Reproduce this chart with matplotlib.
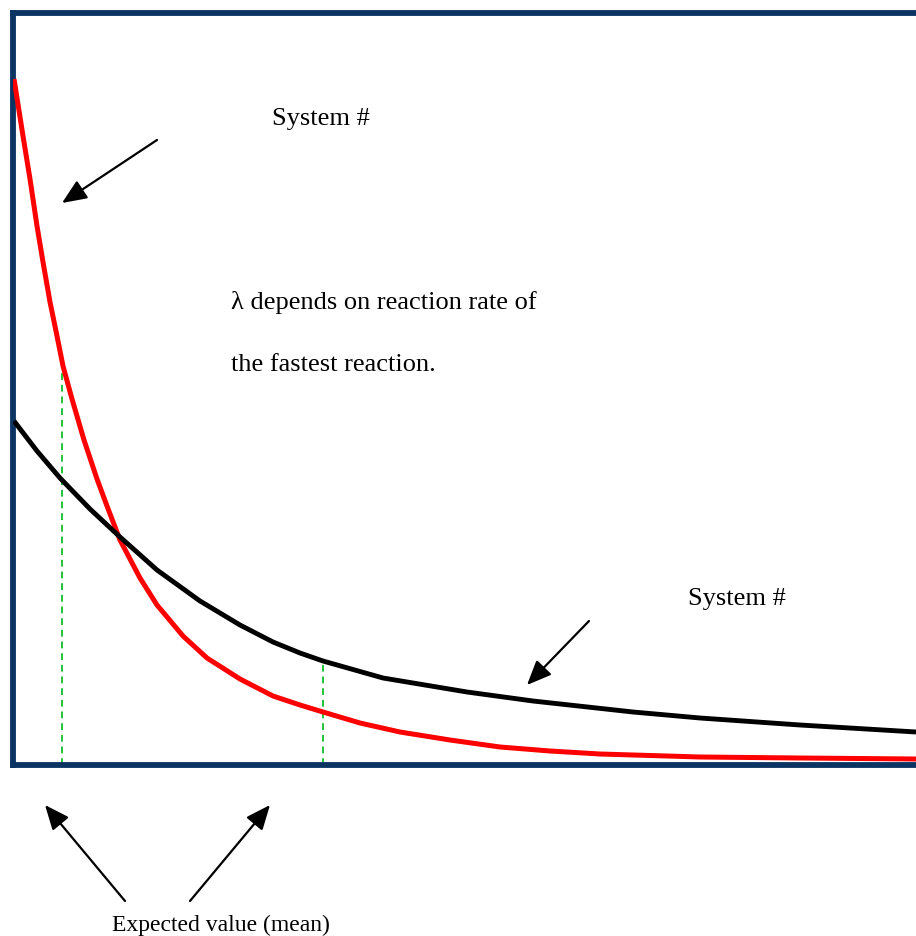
import matplotlib
matplotlib.use("Agg")
import matplotlib.pyplot as plt

# ---- data (arbitrary units: time on x, density on y) ----
red_x = [0.01, 0.10, 0.17, 0.24, 0.30, 0.37, 0.44, 0.50, 0.59, 0.71, 0.84, 0.94, 1.07, 1.27, 1.44,
         1.70, 1.94, 2.27, 2.60, 2.87, 3.10, 3.47, 3.87, 4.37, 4.87, 5.37, 5.87, 6.87, 7.87, 9.03]
red_y = [6.86, 6.29, 5.86, 5.39, 5.03, 4.63, 4.29, 3.99, 3.66, 3.25, 2.86, 2.59, 2.25, 1.87, 1.60,
         1.29, 1.07, 0.86, 0.69, 0.60, 0.53, 0.42, 0.33, 0.25, 0.18, 0.14, 0.11, 0.08, 0.07, 0.06]
black_x = [0.01, 0.24, 0.47, 0.77, 1.07, 1.44, 1.87, 2.27, 2.60, 2.87, 3.10, 3.70, 4.54, 5.20,
           6.20, 6.87, 7.87, 9.03]
black_y = [3.44, 3.14, 2.87, 2.56, 2.28, 1.95, 1.64, 1.40, 1.23, 1.12, 1.04, 0.87, 0.73, 0.64,
           0.53, 0.47, 0.40, 0.33]
mean_red_x, mean_red_top = 0.49, 4.00
mean_black_x, mean_black_top = 3.10, 1.04

label_sys = "System #"
label_lambda1 = "\u03bb depends on reaction rate of"
label_lambda2 = "the fastest reaction."
label_mean = "Expected value (mean)"

W, H = 916, 937
fig = plt.figure(figsize=(W / 100, H / 100), dpi=100)
plt.rcParams['font.family'] = ['Liberation Serif', 'DejaVu Serif']

def fx(px):
    return px / W

def fy(py):
    return 1 - py / H

# axes box: left 13px, top 13.5px, bottom 766px, right beyond the image (925px)
L, T, B, R = 13, 13.5, 766, 925
ax = fig.add_axes([fx(L), fy(B), (R - L) / W, (B - T) / H])
ax.set_xlim(0, (R - L) / 100)
ax.set_ylim(0, (B - T) / 100)
ax.set_xticks([])
ax.set_yticks([])
for s in ax.spines.values():
    s.set_color('#0b3463')
    s.set_linewidth(4.2)

ax.plot(red_x, red_y, color='#ff0000', lw=3.6, solid_capstyle='butt',
        solid_joinstyle='round', zorder=3)
ax.plot(black_x, black_y, color='black', lw=3.5, solid_capstyle='butt',
        solid_joinstyle='round', zorder=3)
ax.plot([mean_red_x, mean_red_x], [0, mean_red_top], color='#22c33a', lw=1.4,
        ls=(0, (3.5, 2.5)), zorder=2)
ax.plot([mean_black_x, mean_black_x], [0, mean_black_top], color='#22c33a', lw=1.4,
        ls=(0, (3.5, 2.5)), zorder=2)

def arrow(x0, y0, x1, y1):
    fig.add_artist(matplotlib.patches.FancyArrowPatch(
        (fx(x0), fy(y0)), (fx(x1), fy(y1)), transform=fig.transFigure,
        arrowstyle='-|>,head_length=0.75,head_width=0.32', mutation_scale=20,
        color='black', lw=1.6, shrinkA=0, shrinkB=0))

arrow(157, 141, 62, 204)
arrow(589, 622, 527, 686)
arrow(125, 902, 45, 806)
arrow(190, 902, 270, 806)

fig.text(fx(272), fy(119), label_sys, fontsize=19, va='center', ha='left')
fig.text(fx(231), fy(302), label_lambda1, fontsize=19, va='center', ha='left')
fig.text(fx(231), fy(365), label_lambda2, fontsize=19, va='center', ha='left')
fig.text(fx(688), fy(599), label_sys, fontsize=19, va='center', ha='left')
fig.text(fx(112), fy(925), label_mean, fontsize=17, va='center', ha='left')

fig.savefig('out.png', dpi=100)
